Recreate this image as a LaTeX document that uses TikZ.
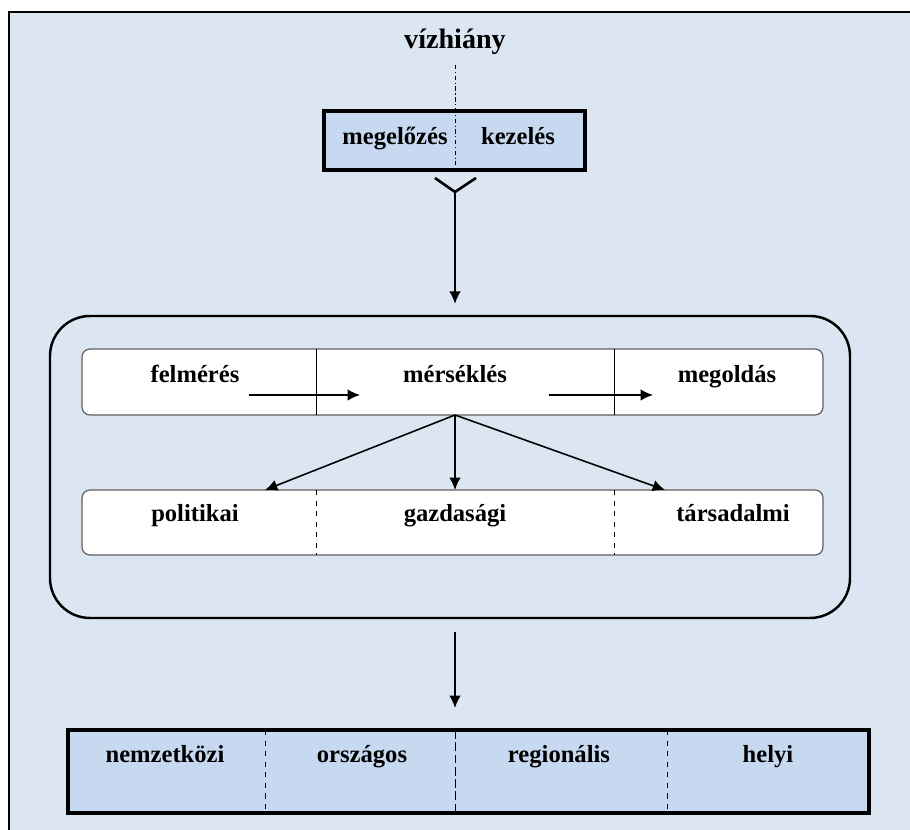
\documentclass[tikz,border=0pt]{standalone}
\usepackage{fontspec}
\setmainfont{Liberation Serif}
\usetikzlibrary{arrows.meta,positioning,calc}
\definecolor{vhback}{RGB}{220,230,242}
\definecolor{vhfill}{RGB}{198,217,241}
\definecolor{vhgray}{RGB}{95,95,95}
\tikzstyle{word} = [font=\fontsize{14}{16}\selectfont\bfseries, inner sep=0pt, anchor=base]
\tikzstyle{band} = [rectangle, rounded corners=0.16cm, draw=vhgray, fill=white, line width=0.7pt]
\tikzstyle{levelbox} = [rectangle, draw=black, fill=vhfill, line width=1.9pt]
\tikzstyle{arrow} = [line width=0.9pt, -{Latex[length=7pt,width=6.5pt]}]
\tikzstyle{divider} = [line width=0.5pt]

\begin{document}
\begin{tikzpicture}[x=0.02cm, y=-0.02cm]
\useasboundingbox (0,0) rectangle (910,830);
\clip (0,0) rectangle (910,830);
% frame
\draw[fill=vhback, line width=1.2pt] (9,12) rectangle (930,850);

% top: vizhiany
\node[word, font=\fontsize{16}{18}\selectfont\bfseries] (viz) at (455,49) {vízhiány};
\node[levelbox, minimum width=261*0.02cm, minimum height=59*0.02cm] (pk) at (454.5,140.5) {};
\draw[divider, dash pattern=on 2.5pt off 1.5pt on 0.6pt off 1.5pt] (455,65) -- (455,165);
\node[word] (meg) at (395,145) {megelőzés};
\node[word] (kez) at (518,145) {kezelés};

% fork
\coordinate (fl) at (435,178);
\coordinate (fr) at (476,178);
\coordinate (fork) at (455,192);
\draw[line width=1.5pt] (fl) -- (fork) -- (fr);

% container
\node[rectangle, rounded corners=0.8cm, draw=black, line width=1.4pt, minimum width=800*0.02cm, minimum height=302*0.02cm] (cont) at (450,467) {};
\draw[arrow] (fork) -- ([yshift=0.22cm]cont.north -| fork);

% row 1
\node[band, minimum width=741*0.02cm, minimum height=66*0.02cm] (row1) at (452.5,382) {};
\draw[divider] (316,349) -- (316,415);
\draw[divider] (614,349) -- (614,415);
\node[word] (felm) at (195,383) {felmérés};
\node[word] (mers) at (455,383) {mérséklés};
\node[word] (mego) at (727,383) {megoldás};
\coordinate (a1s) at (249,395);
\coordinate (a1e) at (360,395);
\coordinate (a2s) at (549,395);
\coordinate (a2e) at (653,395);
\draw[arrow] (a1s) -- (a1e);
\draw[arrow] (a2s) -- (a2e);

% row 2
\node[band, minimum width=741*0.02cm, minimum height=65*0.02cm] (row2) at (452.5,522.5) {};
\draw[divider, dashed] (316,490) -- (316,555);
\draw[divider, dashed] (614,490) -- (614,555);
\node[word] (pol) at (195,522) {politikai};
\node[word] (gaz) at (455,522) {gazdasági};
\node[word] (tar) at (733,522) {társadalmi};

% arrows from mersekles
\coordinate (split) at (455,415);
\coordinate (tpol) at (265,490);
\coordinate (tgaz) at (455,490);
\coordinate (ttar) at (665,490);
\draw[arrow] (split) -- (tpol);
\draw[arrow] (split) -- (tgaz);
\draw[arrow] (split) -- (ttar);

% levels
\coordinate (ds) at (455,632);
\coordinate (de) at (455,708);
\draw[arrow] (ds) -- (de);
\node[levelbox, line width=2.1pt, minimum width=801*0.02cm, minimum height=83*0.02cm] (lvl) at (468.5,771.5) {};
\draw[divider, dashed] (265,730) -- (265,813);
\draw[divider, dash pattern=on 5pt off 2pt] (455,730) -- (455,813);
\draw[divider, dashed] (667,730) -- (667,813);
\node[word] (nem) at (165,763) {nemzetközi};
\node[word] (orsz) at (362,763) {országos};
\node[word] (reg) at (559,763) {regionális};
\node[word] (hely) at (768,763) {helyi};
\end{tikzpicture}
\end{document}
